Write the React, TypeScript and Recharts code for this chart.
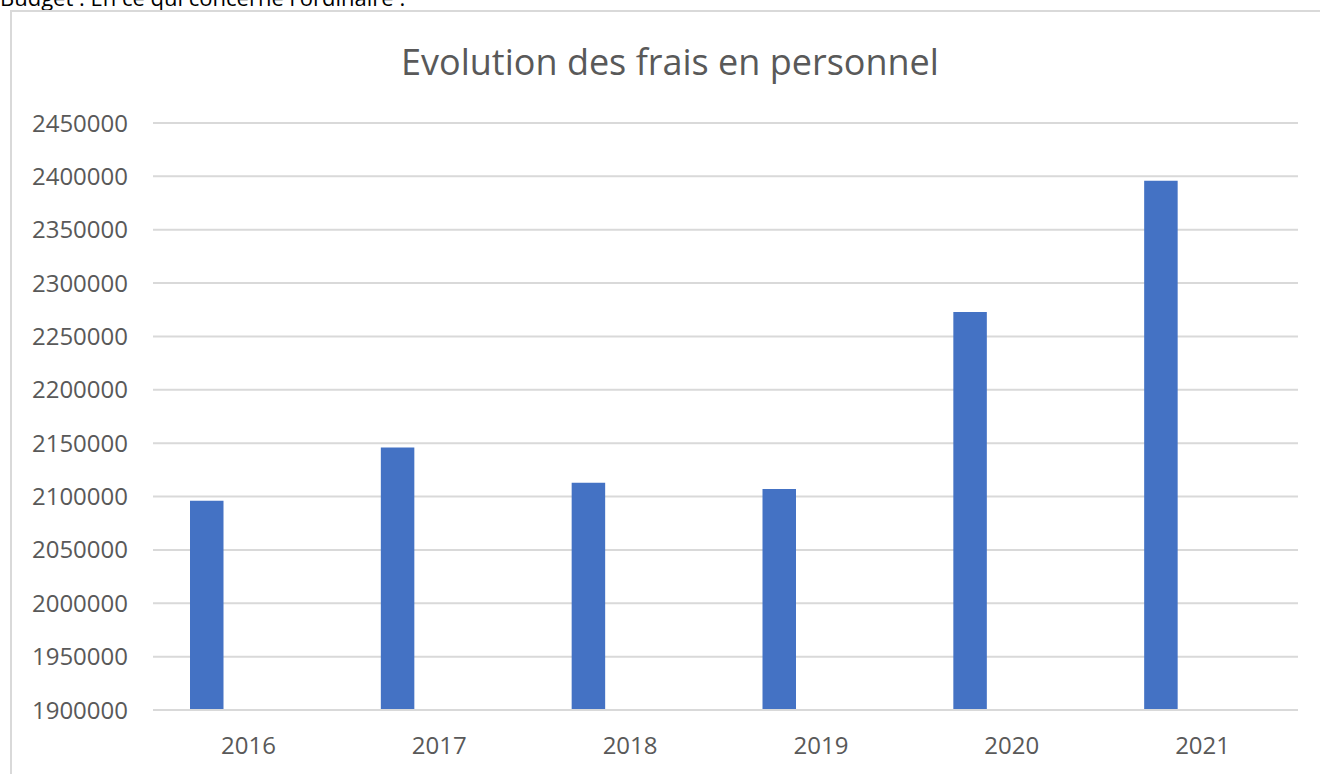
import React from "react";
import { BarChart, Bar, XAxis, YAxis, CartesianGrid } from "recharts";

const years = ["2016", "2017", "2018", "2019", "2020", "2021"];
const frais = [2096000, 2146000, 2113000, 2107000, 2273000, 2396000];
const empty = [null, null, null, null, null, null];
const yTicks = [1900000, 1950000, 2000000, 2050000, 2100000, 2150000, 2200000, 2250000, 2300000, 2350000, 2400000, 2450000];

const data = years.map((y, i) => ({ year: y, frais: frais[i], autre: empty[i] }));

const FONT = "'Open Sans', sans-serif";
const GREY = "#595959";

export default function App() {
  return (
    <div style={{ position: "fixed", left: 0, top: 0, width: 1320, height: 774, overflow: "hidden", background: "#fff" }}>
      <div style={{ position: "absolute", left: 0, top: -18, fontFamily: FONT, fontSize: 22, color: "#000", whiteSpace: "nowrap" }}>
        Budget : En ce qui concerne l'ordinaire :
      </div>
      <div style={{ position: "absolute", left: 10, top: 10, width: 1400, height: 900, borderLeft: "2px solid #d9d9d9", borderTop: "2px solid #d9d9d9", boxSizing: "border-box" }} />
      <div style={{ position: "absolute", left: 0, top: 37, width: 1340, textAlign: "center", fontFamily: FONT, fontSize: 36, lineHeight: "49px", color: GREY, whiteSpace: "nowrap" }}>
        Evolution des frais en personnel
      </div>
      <div style={{ position: "absolute", left: 0, top: 0 }}>
        <BarChart
          width={1320}
          height={774}
          data={data}
          margin={{ top: 123, right: 22, bottom: 0, left: 0 }}
          barSize={33.5}
          barGap={50}
        >
          <CartesianGrid horizontal vertical={false} stroke="#d9d9d9" strokeWidth={2} />
          <XAxis
            dataKey="year"
            axisLine={{ stroke: "#d9d9d9", strokeWidth: 2 }}
            tickLine={false}
            tickSize={0}
            tickMargin={27}
            tick={{ fill: GREY, fontSize: 24, fontFamily: FONT }}
            height={64}
          />
          <YAxis
            type="number"
            domain={[1900000, 2450000]}
            ticks={yTicks}
            allowDataOverflow
            axisLine={false}
            tickLine={false}
            tickSize={0}
            tickMargin={25}
            width={153}
            tick={{ fill: GREY, fontSize: 24, fontFamily: FONT }}
          />
          <Bar dataKey="frais" fill="#4472C4" isAnimationActive={false} />
          <Bar dataKey="autre" fill="#ED7D31" isAnimationActive={false} />
        </BarChart>
      </div>
    </div>
  );
}
